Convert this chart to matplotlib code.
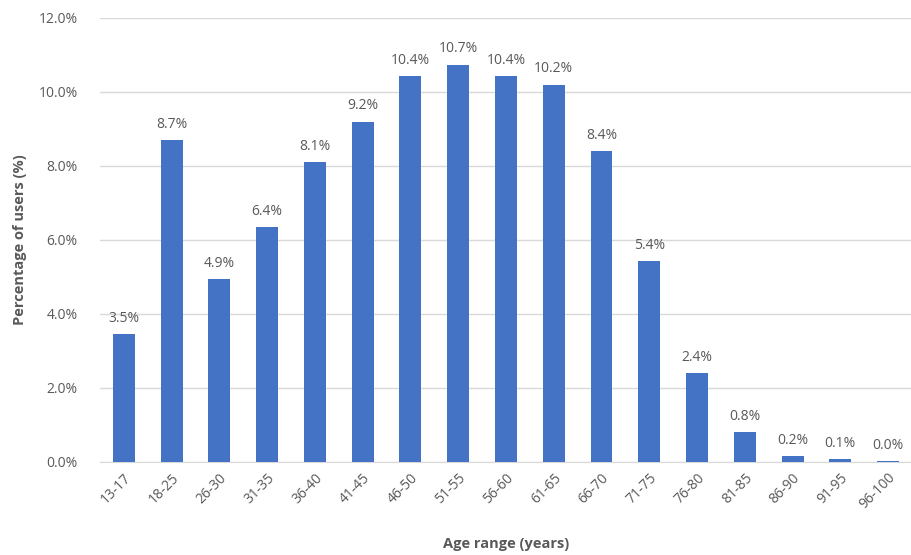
import matplotlib
matplotlib.use("Agg")
import matplotlib.pyplot as plt
from matplotlib.ticker import FuncFormatter, MultipleLocator

categories = ["13-17", "18-25", "26-30", "31-35", "36-40", "41-45", "46-50", "51-55",
              "56-60", "61-65", "66-70", "71-75", "76-80", "81-85", "86-90", "91-95", "96-100"]
values = [3.46, 8.7, 4.94, 6.36, 8.1, 9.2, 10.44, 10.74, 10.44, 10.2, 8.4, 5.44, 2.4, 0.8, 0.16, 0.07, 0.02]

plt.rcParams['font.family'] = ['Open Sans', 'DejaVu Sans']
text_col = '#595959'

fig = plt.figure(figsize=(9.12, 5.55), dpi=100)
ax = fig.add_axes([0.1096, 0.1676, 0.8904, 0.80])

x = range(len(categories))
bars = ax.bar(x, values, width=0.46, color='#4472C4', zorder=3)
for xi, v in zip(x, values):
    ax.text(xi, v + 0.22, f"{v:.1f}%", ha='center', va='bottom', fontsize=10, color=text_col)

ax.set_xlim(-0.5, len(categories) - 0.5)
ax.set_ylim(0, 12)
ax.yaxis.set_major_locator(MultipleLocator(2))
ax.yaxis.set_major_formatter(FuncFormatter(lambda v, p: f"{v:.1f}%"))
ax.grid(axis='y', color='#d9d9d9', linewidth=1, zorder=0)
for s in ['top', 'right', 'left']:
    ax.spines[s].set_visible(False)
ax.spines['bottom'].set_color('#d9d9d9')
ax.tick_params(axis='both', length=0, colors=text_col, labelsize=10)
ax.tick_params(axis='y', pad=16)
ax.set_xticks(list(x))
ax.set_xticklabels(categories, rotation=45, ha='right', rotation_mode='anchor')
ax.tick_params(axis='x', pad=6)
ax.set_ylabel("Percentage of users (%)", fontsize=10.5, fontweight='bold', color=text_col, labelpad=8)
ax.set_xlabel("Age range (years)", fontsize=10.5, fontweight='bold', color=text_col, labelpad=18)

fig.savefig("out.png", dpi=100)
